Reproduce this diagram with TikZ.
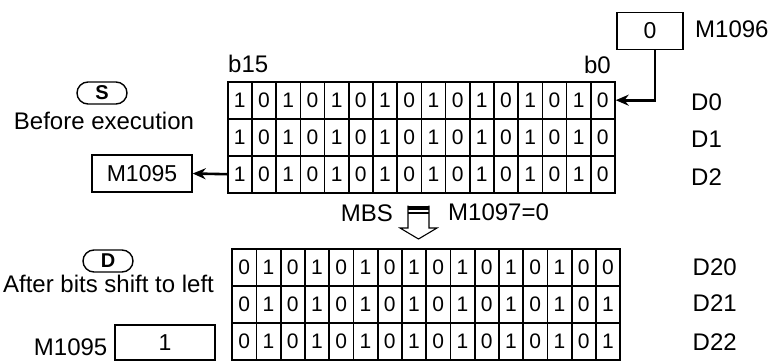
\documentclass[tikz,border=0pt]{standalone}
\usepackage{fontspec}
\setmainfont{Liberation Sans}
\usetikzlibrary{positioning,arrows.meta}

\begin{document}
\begin{tikzpicture}[
  x=1pt, y=-1pt,
  lbl/.style={font=\fontsize{24}{28}\selectfont, inner sep=0pt},
  bit/.style={draw, line width=1.6pt, minimum width=24.2pt, minimum height=37pt, inner sep=0pt, font=\fontsize{21}{24}\selectfont},
  flagbox/.style={draw, line width=1.4pt, minimum width=100pt, minimum height=37pt, inner sep=0pt, font=\fontsize{23}{26}\selectfont},
  pill/.style={draw, line width=1.4pt, rounded corners=11pt, minimum width=50pt, minimum height=22pt, inner sep=0pt, font=\fontsize{20}{22}\selectfont\bfseries},
  shiftarrow/.style={line width=2.6pt, -{Stealth[length=13pt,width=11pt]}}
]
\useasboundingbox (0,0) rectangle (775,361);

% Source registers D0-D2
\foreach \bits [count=\r] in {{1,0,1,0,1,0,1,0,1,0,1,0,1,0,1,0},{1,0,1,0,1,0,1,0,1,0,1,0,1,0,1,0},{1,0,1,0,1,0,1,0,1,0,1,0,1,0,1,0}}
  \foreach \b [count=\c] in \bits
    \node[bit] (s-\r-\c) at ({227.7+24.2*(\c-0.5)}, {81.7+37*(\r-0.5)}) {\b};

% Destination registers D20-D22
\foreach \bits [count=\r] in {{0,1,0,1,0,1,0,1,0,1,0,1,0,1,0,0},{0,1,0,1,0,1,0,1,0,1,0,1,0,1,0,1},{0,1,0,1,0,1,0,1,0,1,0,1,0,1,0,1}}
  \foreach \b [count=\c] in \bits
    \node[bit] (d-\r-\c) at ({232.2+24.25*(\c-0.5)}, {249+37*(\r-0.5)}) {\b};

% Bit labels
\node[lbl, anchor=base west] (b15) at (228, 72.7) {b15};
\node[lbl, anchor=base east] (b0) at (611, 74) {b0};

% Register names
\node[lbl, anchor=base west] (n-d0) at (691, 110.7) {D0};
\node[lbl, anchor=base west] (n-d1) at (691, 147.7) {D1};
\node[lbl, anchor=base west] (n-d2) at (691, 185) {D2};
\node[lbl, anchor=base west] (n-d20) at (692.5, 275) {D20};
\node[lbl, anchor=base west] (n-d21) at (692.5, 311.7) {D21};
\node[lbl, anchor=base west] (n-d22) at (692.5, 350) {D22};

% Flags
\node[flagbox, minimum width=66pt] (m96) at (650, 31) {0};
\node[lbl, anchor=base west] (m96-lbl) at (695, 37.3) {M1096};
\node[flagbox] (m95-src) at (142, 173.5) {M1095};
\node[flagbox, minimum height=35pt] (m95-dst) at (165, 342.5) {1};
\node[lbl, anchor=base east] (m95-lbl) at (107.5, 355) {M1095};

% Operands
\node[pill] (op-s) at (102, 93) {S};
\node[lbl, anchor=base] (op-s-txt) at (104, 129.5) {Before execution};
\node[pill] (op-d) at (108, 261) {D};
\node[lbl, anchor=base] (op-d-txt) at (108.5, 292.7) {After bits shift to left};

% Instruction
\node[lbl, anchor=base east] (mbs) at (393, 221.7) {MBS};
\node[lbl, anchor=base west] (m97) at (448, 220) {M1097=0};
\fill (408,205.5) rectangle (429,210);
\draw[line width=1.1pt] (408,213) -- (429,213);
\draw[line width=1.1pt, line join=miter] (408,205.5) -- (408,228) -- (400,228) -- (418.5,239) -- (437,228) -- (429,228) -- (429,205.5);

% Shift arrows
\draw[shiftarrow] ([xshift=5pt]m96.south) |- (s-1-16.east);
\draw[shiftarrow] (s-3-1.west) -- (m95-src.east);

\end{tikzpicture}
\end{document}
